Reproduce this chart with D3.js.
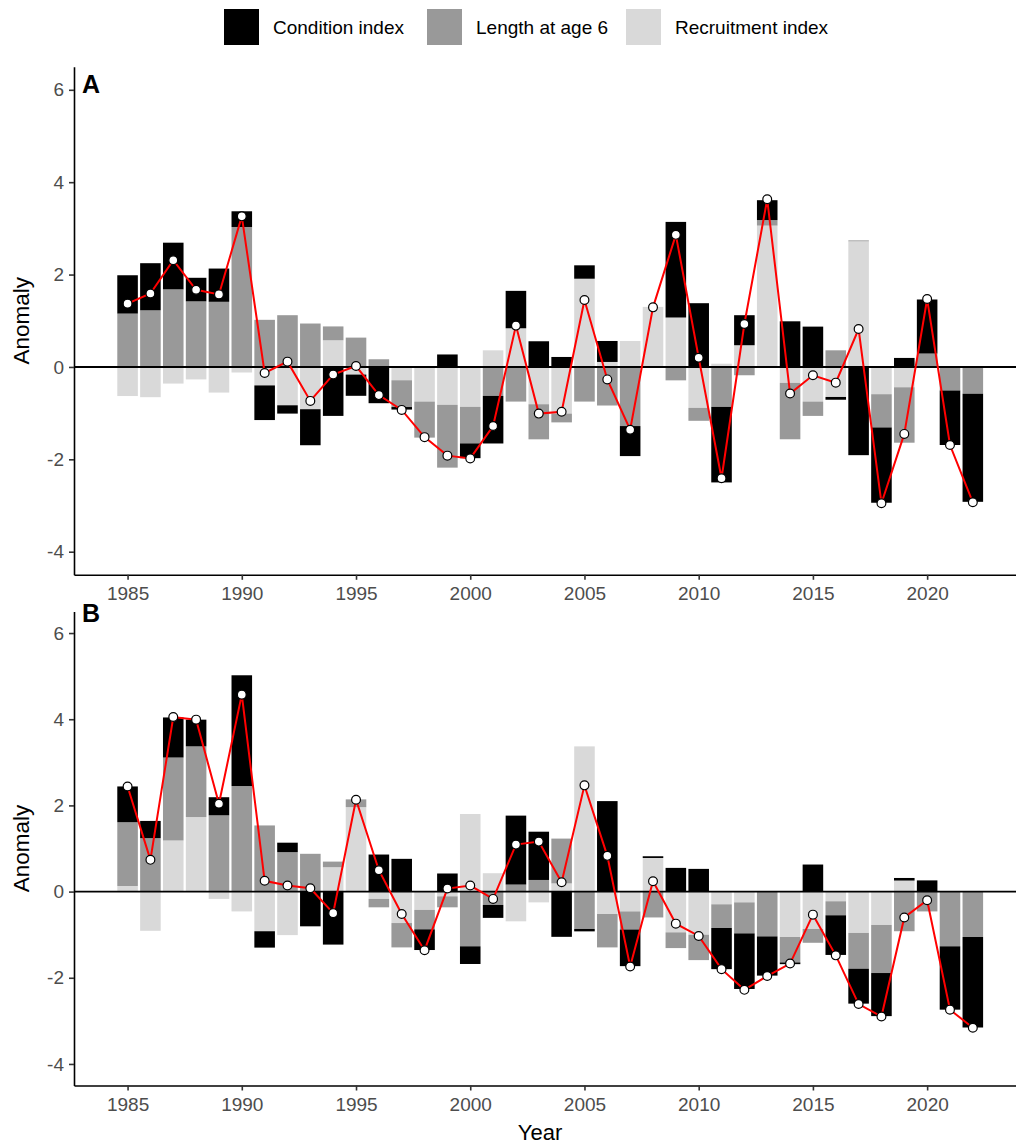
<!DOCTYPE html>
<html>
<head>
<meta charset="utf-8">
<script src="https://cdn.jsdelivr.net/npm/d3@7"></script>
<style>
  body { margin: 0; background: #fff; }
  text { font-family: "Liberation Sans", Arial, sans-serif; }
</style>
</head>
<body>
<svg id="chart" width="1016" height="1146"></svg>
<script>
const years = [1985, 1986, 1987, 1988, 1989, 1990, 1991, 1992, 1993, 1994, 1995, 1996, 1997, 1998, 1999,
  2000, 2001, 2002, 2003, 2004, 2005, 2006, 2007, 2008, 2009, 2010, 2011, 2012, 2013, 2014, 2015, 2016,
  2017, 2018, 2019, 2020, 2021, 2022]
const seriesNames = ['Condition index', 'Length at age 6', 'Recruitment index']
const seriesColors = ['#000000', '#999999', '#d9d9d9']
const yTicks = [-4, -2, 0, 2, 4, 6]
const xTicks = [1985, 1990, 1995, 2000, 2005, 2010, 2015, 2020]

// panel A
const conditionA = [0.83, 1.02, 1.01, 0.51, 0.72, 0.34, -0.75, -0.18, -0.78, -1.06, -0.46, -0.785, -0.055, 0, 0.27,
  -0.32, -1.03, 0.81, 0.556, 0.216, 0.29, 0.454, -0.65, 0, 2.07, 1.38, -1.635, 0.65, 0.43, 0.988, 0.873, -0.06,
  -1.91, -1.63, 0.195, 1.17, -1.18, -2.34]
const lengthA = [1.155, 1.226, 1.68, 1.42, 1.41, 3.03, 1.02, 1.12, 0.94, 0.30, 0.635, 0.166, -0.58, -0.78, -1.36,
  -0.79, -0.627, -0.75, -0.76, -0.19, -0.75, -0.835, -1.28, 0, -0.29, -0.28, -0.865, -0.18, 0.12, -1.22, -0.31, 0.36,
  0.02, -0.72, -1.2, 0.29, -0.51, -0.58]
const recruitA = [-0.63, -0.655, -0.36, -0.27, -0.555, -0.12, -0.40, -0.83, -0.915, 0.577, -0.165, 0, -0.288, -0.75, -0.82,
  -0.865, 0.36, 0.837, -0.807, -1.01, 1.91, 0.108, 0.562, 1.30, 1.07, -0.886, 0.07, 0.47, 3.06, -0.346, -0.75, -0.65,
  2.72, -0.59, -0.44, 0, 0, 0]
const totalA = [1.37, 1.59, 2.31, 1.67, 1.57, 3.26, -0.13, 0.115, -0.735, -0.165, 0.02, -0.61, -0.93, -1.52, -1.92,
  -1.98, -1.28, 0.895, -1.01, -0.97, 1.45, -0.27, -1.36, 1.29, 2.86, 0.2, -2.41, 0.93, 3.63, -0.576, -0.18, -0.34,
  0.82, -2.95, -1.45, 1.47, -1.69, -2.93]

// panel B
const conditionB = [0.83, 0.40, 0.93, 0.62, 0.42, 2.57, -0.38, 0.22, -0.806, -1.23, 0, 0.86, 0.76, -0.48, 0.42,
  -0.41, -0.30, 1.6, 1.12, -1.05, -0.055, 2.10, -0.85, 0.04, 0.55, 0.527, -0.955, -1.29, -0.91, -0.04, 0.628, -0.92,
  -0.81, -1.0, 0.06, 0.26, -1.47, -2.1]
const lengthB = [1.48, 1.24, 1.925, 1.64, 1.77, 2.45, 1.535, 0.915, 0.877, 0.13, 0.18, -0.195, -0.565, -0.45, -0.255,
  -1.27, -0.31, 0.163, 0.27, 1.04, -0.868, -0.775, -0.42, -0.6, -0.365, -0.59, -0.55, -0.72, -1.04, -0.59, -0.32, -0.325,
  -0.83, -1.115, -0.92, -0.46, -1.27, -1.054]
const recruitB = [0.13, -0.91, 1.186, 1.73, -0.17, -0.46, -0.92, -1.01, 0, 0.566, 1.96, -0.17, -0.73, -0.426, -0.11,
  1.80, 0.426, -0.69, -0.25, 0.19, 3.37, -0.52, -0.46, 0.78, -0.946, -1.0, -0.295, -0.25, 0, -1.054, -0.868, -0.225,
  -0.96, -0.775, 0.256, 0, 0, 0]
const totalB = [2.44, 0.737, 4.05, 3.99, 2.04, 4.57, 0.25, 0.14, 0.078, -0.5, 2.13, 0.496, -0.52, -1.36, 0.07,
  0.14, -0.17, 1.09, 1.16, 0.217, 2.465, 0.83, -1.74, 0.24, -0.744, -1.03, -1.80, -2.28, -1.96, -1.67, -0.535, -1.48,
  -2.61, -2.9, -0.6, -0.2, -2.74, -3.16]

const svg = d3.select('#chart')
svg.append('rect').attr('width', 1016).attr('height', 1146).attr('fill', '#fff')

const x = d3.scaleLinear().domain([1982.655, 2024.345]).range([74, 1026.4])
const color = d3.scaleOrdinal().domain(seriesNames).range(seriesColors)

function drawPanel(cond, len, rec, total, y, tag, tagY) {
  const g = svg.append('g')
  const rows = years.map((yr, i) => ({ year: yr, 'Condition index': cond[i], 'Length at age 6': len[i], 'Recruitment index': rec[i] }))
  // ggplot stacks the last factor level nearest zero
  const stacked = d3.stack().keys(seriesNames.slice().reverse()).offset(d3.stackOffsetDiverging)(rows)
  g.selectAll('g.series').data(stacked).enter().append('g').attr('fill', d => color(d.key))
    .selectAll('rect').data(d => d).enter().append('rect')
    .attr('x', d => x(d.data.year - 0.45)).attr('width', x(1.9) - x(1))
    .attr('y', d => y(Math.max(d[0], d[1]))).attr('height', d => Math.abs(y(d[0]) - y(d[1])))
  g.append('line').attr('x1', x.range()[0]).attr('x2', x.range()[1]).attr('y1', y(0)).attr('y2', y(0))
    .attr('stroke', '#000').attr('stroke-width', 1.9)
  const pts = years.map((yr, i) => [yr, total[i]])
  g.append('path').datum(pts).attr('fill', 'none').attr('stroke', '#ff0000').attr('stroke-width', 2)
    .attr('d', d3.line().x(d => x(d[0])).y(d => y(d[1])))
  g.selectAll('circle').data(pts).enter().append('circle')
    .attr('cx', d => x(d[0])).attr('cy', d => y(d[1])).attr('r', 4.4)
    .attr('fill', '#fff').attr('stroke', '#000').attr('stroke-width', 1.2)

  const ya = g.append('g').attr('transform', `translate(${x.range()[0]},0)`)
    .call(d3.axisLeft(y).tickValues(yTicks).tickFormat(d => String(d)).tickSize(5).tickSizeOuter(0).tickPadding(5))
  const xa = g.append('g').attr('transform', `translate(0,${y.range()[0]})`)
    .call(d3.axisBottom(x).tickValues(xTicks).tickFormat(d => String(d)).tickSize(5).tickSizeOuter(0).tickPadding(7))
  for (const a of [ya, xa]) {
    a.select('.domain').attr('stroke', '#000').attr('stroke-width', 1.6)
    a.selectAll('.tick line').attr('stroke', '#333').attr('stroke-width', 1.6)
    a.selectAll('.tick text').attr('fill', '#4d4d4d').style('font-size', '19px').style('font-family', '"Liberation Sans", Arial, sans-serif')
  }
  g.append('text').attr('transform', `translate(29,${(y.range()[0] + y.range()[1]) / 2}) rotate(-90)`)
    .attr('text-anchor', 'middle').style('font-size', '22.5px').text('Anomaly')
  g.append('text').attr('x', 82).attr('y', tagY).style('font-size', '25px').style('font-weight', 'bold').text(tag)
}

const yA = d3.scaleLinear().domain([-4.5, 6.5]).range([574.8, 66.7])
const yB = d3.scaleLinear().domain([-4.5, 6.5]).range([1085.5, 611.5])
drawPanel(conditionA, lengthA, recruitA, totalA, yA, 'A', 93)
drawPanel(conditionB, lengthB, recruitB, totalB, yB, 'B', 622)

svg.append('text').attr('x', 540).attr('y', 1140).attr('text-anchor', 'middle').style('font-size', '22px').text('Year')

// legend
const legendX = [224, 427, 626]
const leg = svg.append('g')
seriesNames.forEach((name, i) => {
  leg.append('rect').attr('x', legendX[i]).attr('y', 9).attr('width', 35).attr('height', 36).attr('fill', seriesColors[i])
  leg.append('text').attr('x', legendX[i] + 49).attr('y', 27).attr('dy', '0.35em').style('font-size', '19px').text(name)
})
</script>
</body>
</html>
